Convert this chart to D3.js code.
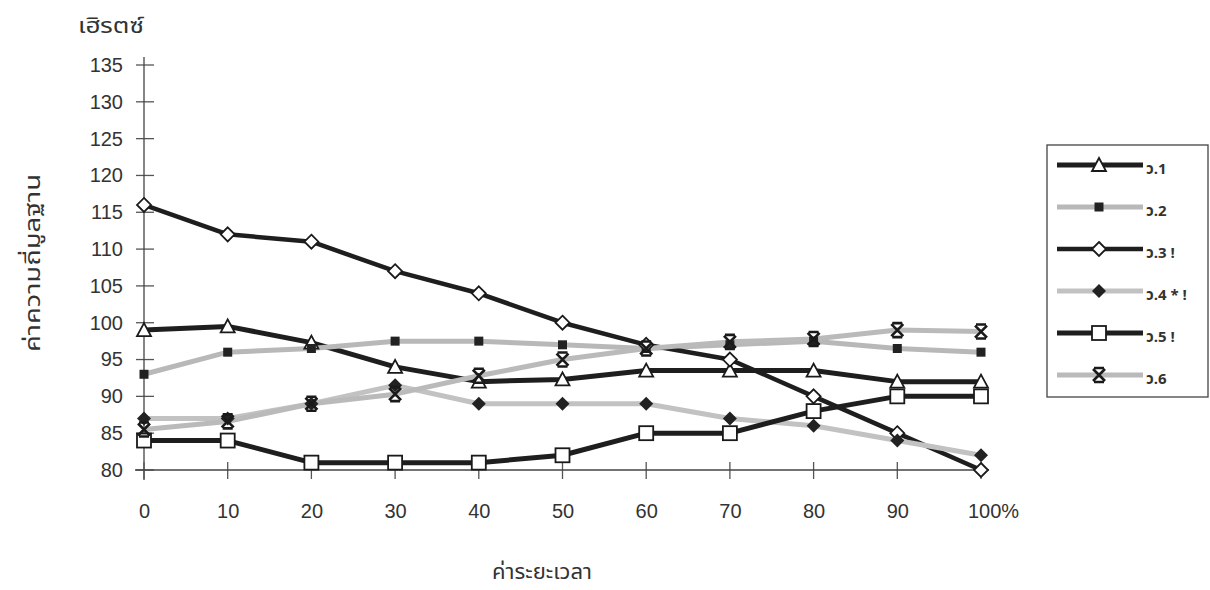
<!DOCTYPE html>
<html><head><meta charset="utf-8">
<script src="https://cdn.jsdelivr.net/npm/d3@7"></script>
<style>
html,body{margin:0;padding:0;background:#fff;}
svg{display:block;}
</style></head>
<body>
<svg id="chart" width="1210" height="590"></svg>
<script>
const xValues = [0,10,20,30,40,50,60,70,80,90,100];
const xTickLabels = ["0","10","20","30","40","50","60","70","80","90","100%"];
const yTicks = [80,85,90,95,100,105,110,115,120,125,130,135];
const seriesNames = ["ว.1","ว.2","ว.3 !","ว.4 * !","ว.5 !","ว.6"];
const s1 = [99,99.5,97.3,94,92,92.3,93.5,93.5,93.5,92,92];
const s2 = [93,96,96.5,97.5,97.5,97,96.5,97,97.5,96.5,96];
const s3 = [116,112,111,107,104,100,97,95,90,85,80];
const s4 = [87,87,89,91.5,89,89,89,87,86,84,82];
const s5 = [84,84,81,81,81,82,85,85,88,90,90];
const s6 = [85.5,86.6,89,90.3,92.8,95,96.5,97.4,97.8,99,98.8];
const yTitle = "ค่าความถี่มูลฐาน";
const xTitle = "ค่าระยะเวลา";
const unitTitle = "เฮิรตซ์";

const seriesData = [s1,s2,s3,s4,s5,s6];
const styles = [
  {color:"#1e1e1e", width:5, marker:"triangle"},
  {color:"#b8b8b8", width:5, marker:"sqfill"},
  {color:"#1e1e1e", width:4.5, marker:"diamondOpen"},
  {color:"#c2c2c2", width:5, marker:"diamondFill"},
  {color:"#1e1e1e", width:5, marker:"squareOpen"},
  {color:"#bababa", width:5, marker:"star"}
];

const svg = d3.select("#chart");
const x = d3.scaleLinear().domain([0,100]).range([144,981]);
const y = d3.scaleLinear().domain([80,135]).range([470,65]);
const font = "'Liberation Sans', Arial, sans-serif";

// axes
const yAxis = d3.axisLeft(y).tickValues(yTicks).tickSize(0).tickPadding(21);
const gy = svg.append("g").attr("transform",`translate(${x(0)},0)`).call(yAxis);
gy.select(".domain").remove();
gy.selectAll("text").attr("font-family",font).attr("font-size",20).attr("fill","#333");
svg.append("g").selectAll("line").data(yTicks).join("line")
  .attr("x1",x(0)-8).attr("x2",x(0)+10).attr("y1",d=>y(d)).attr("y2",d=>y(d))
  .attr("stroke","#555").attr("stroke-width",1.3);
svg.append("line").attr("x1",x(0)).attr("x2",x(0)).attr("y1",y(135)-8).attr("y2",y(80)+10)
  .attr("stroke","#444").attr("stroke-width",1.3);

const xAxis = d3.axisBottom(x).tickValues(xValues).tickFormat((d,i)=>xTickLabels[i]).tickSize(0).tickPadding(34);
const gx = svg.append("g").attr("transform",`translate(0,${y(80)})`).call(xAxis);
gx.select(".domain").remove();
gx.selectAll("text").attr("font-family",font).attr("font-size",20).attr("fill","#333");
gx.selectAll(".tick:last-of-type text").attr("dx","0.6em");
svg.append("g").selectAll("line").data(xValues).join("line")
  .attr("x1",d=>x(d)).attr("x2",d=>x(d)).attr("y1",y(80)-8).attr("y2",y(80)+9)
  .attr("stroke","#555").attr("stroke-width",1.3);
svg.append("line").attr("x1",x(0)-9).attr("x2",x(100)+8).attr("y1",y(80)).attr("y2",y(80))
  .attr("stroke","#444").attr("stroke-width",1.3);

// titles
const thaiFont = "'Noto Sans Thai','Noto Sans','DejaVu Sans',sans-serif";
svg.append("text").attr("x",111).attr("y",33).attr("text-anchor","middle")
  .attr("font-family",thaiFont).attr("font-size",21).attr("fill","#333")
  .attr("textLength",66).attr("lengthAdjust","spacingAndGlyphs").text(unitTitle);
svg.append("text").attr("transform","translate(40,263) rotate(-90)").attr("text-anchor","middle")
  .attr("font-family",thaiFont).attr("font-size",22).attr("fill","#333")
  .attr("textLength",178).attr("lengthAdjust","spacingAndGlyphs").text(yTitle);
svg.append("text").attr("x",542).attr("y",579).attr("text-anchor","middle")
  .attr("font-family",thaiFont).attr("font-size",21).attr("fill","#333")
  .attr("textLength",100).attr("lengthAdjust","spacingAndGlyphs").text(xTitle);

// marker drawing
function drawMarker(g, type, cx, cy){
  const k = "#1a1a1a";
  if(type==="triangle"){
    g.append("path").attr("d",`M${cx},${cy-7} L${cx+7},${cy+6} L${cx-7},${cy+6} Z`)
      .attr("fill","#fff").attr("stroke",k).attr("stroke-width",1.8);
  } else if(type==="sqfill"){
    g.append("rect").attr("x",cx-4.5).attr("y",cy-4.5).attr("width",9).attr("height",9).attr("fill","#222");
  } else if(type==="diamondOpen"){
    g.append("path").attr("d",`M${cx},${cy-7} L${cx+7},${cy} L${cx},${cy+7} L${cx-7},${cy} Z`)
      .attr("fill","#fff").attr("stroke",k).attr("stroke-width",1.8);
  } else if(type==="diamondFill"){
    g.append("path").attr("d",`M${cx},${cy-7} L${cx+7},${cy} L${cx},${cy+7} L${cx-7},${cy} Z`)
      .attr("fill","#222");
  } else if(type==="squareOpen"){
    g.append("rect").attr("x",cx-7).attr("y",cy-7).attr("width",14).attr("height",14)
      .attr("fill","#fff").attr("stroke",k).attr("stroke-width",1.8);
  } else if(type==="star"){
    g.append("path").attr("d",`M${cx-6},${cy-6} L${cx+6},${cy+6} M${cx+6},${cy-6} L${cx-6},${cy+6} M${cx-5},${cy-7} L${cx+5},${cy-7} M${cx-5},${cy+7} L${cx+5},${cy+7}`)
      .attr("fill","none").attr("stroke",k).attr("stroke-width",2.6);
  }
}

const line = d3.line().x((d,i)=>x(xValues[i])).y(d=>y(d));
const plot = svg.append("g");
seriesData.forEach((s,si)=>{
  const st = styles[si];
  plot.append("path").datum(s).attr("d",line).attr("fill","none")
    .attr("stroke",st.color).attr("stroke-width",st.width).attr("stroke-linejoin","round");
});
seriesData.forEach((s,si)=>{
  const st = styles[si];
  const g = plot.append("g");
  s.forEach((v,i)=>drawMarker(g, st.marker, x(xValues[i]), y(v)));
});

// legend
const lg = svg.append("g");
lg.append("rect").attr("x",1047).attr("y",145).attr("width",161).attr("height",252)
  .attr("fill","#fff").attr("stroke","#444").attr("stroke-width",1.3);
const legY = d3.scaleLinear().domain([0,5]).range([165,375]);
seriesNames.forEach((n,i)=>{
  const st = styles[i];
  const yy = legY(i);
  lg.append("line").attr("x1",1057).attr("x2",1143).attr("y1",yy).attr("y2",yy)
    .attr("stroke",st.color).attr("stroke-width",st.width);
  drawMarker(lg, st.marker, 1099, yy);
  lg.append("text").attr("x",1146).attr("y",yy+9).attr("font-family","'Noto Sans Thai','Liberation Serif',serif")
    .attr("font-size",15).attr("font-weight","bold").attr("fill","#333").text(n);
});
</script>
</body></html>
